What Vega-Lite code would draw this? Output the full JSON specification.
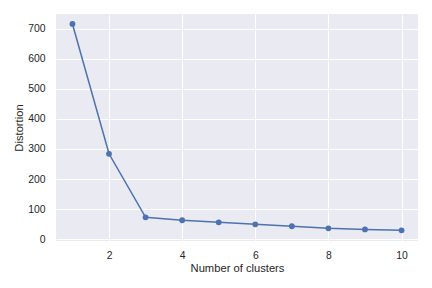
{
  "$schema": "https://vega.github.io/schema/vega-lite/v6.json",
  "width": 362,
  "height": 227,
  "autosize": "none",
  "padding": {"left": 56, "top": 14, "right": 14, "bottom": 47},
  "background": "white",
  "config": {
    "view": {"fill": "#EAEAF2", "stroke": null},
    "font": "Liberation Sans",
    "axis": {
      "domain": false,
      "ticks": false,
      "gridColor": "white",
      "gridWidth": 1,
      "labelColor": "#262626",
      "titleColor": "#262626",
      "labelFont": "Liberation Sans",
      "titleFont": "Liberation Sans",
      "labelFontSize": 10.4,
      "titleFontSize": 11.2,
      "titleFontWeight": "normal"
    }
  },
  "data": {
    "values": [
      {"k": 1, "d": 716},
      {"k": 2, "d": 284},
      {"k": 3, "d": 72.6},
      {"k": 4, "d": 63},
      {"k": 5, "d": 56},
      {"k": 6, "d": 49.5},
      {"k": 7, "d": 43},
      {"k": 8, "d": 36},
      {"k": 9, "d": 32.5},
      {"k": 10, "d": 29.5}
    ]
  },
  "encoding": {
    "x": {
      "field": "k",
      "type": "quantitative",
      "title": "Number of clusters",
      "scale": {"domain": [0.55, 10.45], "nice": false, "zero": false},
      "axis": {"values": [2, 4, 6, 8, 10], "labelPadding": 9, "titlePadding": 2}
    },
    "y": {
      "field": "d",
      "type": "quantitative",
      "title": "Distortion",
      "scale": {"domain": [-6, 749], "nice": false, "zero": false},
      "axis": {"values": [0, 100, 200, 300, 400, 500, 600, 700], "labelPadding": 11, "titlePadding": 3}
    }
  },
  "layer": [
    {"mark": {"type": "line", "color": "#4C72B0", "strokeWidth": 1.5}},
    {"mark": {"type": "point", "filled": true, "color": "#4C72B0", "opacity": 1, "size": 34}}
  ]
}
